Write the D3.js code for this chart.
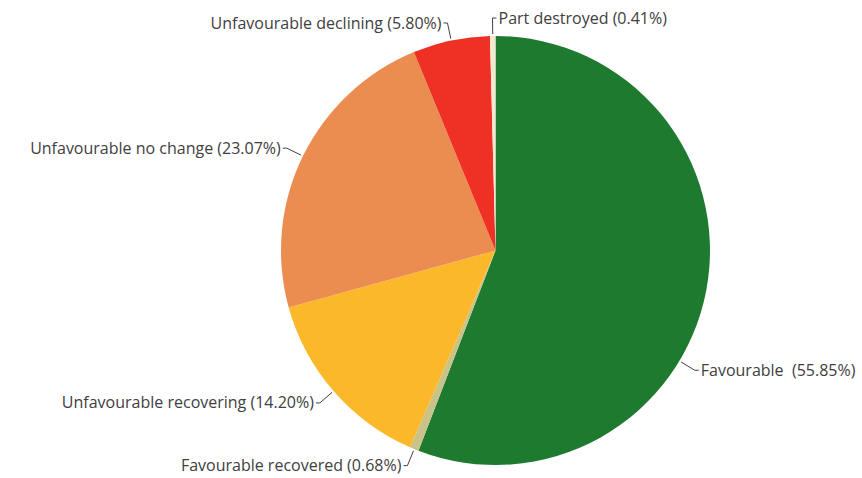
<!DOCTYPE html>
<html>
<head>
<meta charset="utf-8">
<script src="https://cdn.jsdelivr.net/npm/d3@7"></script>
<style>
  html, body { margin: 0; padding: 0; background: #ffffff; }
  svg { display: block; }
  .lbl { font-family: "Open Sans", "Noto Sans", sans-serif; font-size: 16px; fill: #404040; white-space: pre; }
</style>
</head>
<body>
<svg id="chart" width="862" height="478"></svg>
<script>
// Conservation status shares, clockwise from 12 o'clock
const categories = [
  "Favourable",
  "Favourable recovered",
  "Unfavourable recovering",
  "Unfavourable no change",
  "Unfavourable declining",
  "Part destroyed"
];
const shares = [55.85, 0.68, 14.20, 23.07, 5.80, 0.41];
const labelTexts = [
  "Favourable  (55.85%)",
  "Favourable recovered (0.68%)",
  "Unfavourable recovering (14.20%)",
  "Unfavourable no change (23.07%)",
  "Unfavourable declining (5.80%)",
  "Part destroyed (0.41%)"
];
const colors = ["#1e7a2f", "#c9c389", "#fbb82a", "#eb8d50", "#ee3124", "#f2ead0"];

// Leader-line angle overrides (degrees, clockwise from top); null = slice middle
const labelAngleOverride = [121, null, null, null, null, null];
// Which side of the elbow each label sits on
const labelSide = ["right", "left", "left", "left", "left", "right"];

const svg = d3.select("#chart");
const cx = 495.5, cy = 250.5, radius = 214.5;

const rows = categories.map((c, i) => ({
  name: c, value: shares[i], text: labelTexts[i], color: colors[i],
  override: labelAngleOverride[i], side: labelSide[i]
}));

const pie = d3.pie().sort(null).value(d => d.value);
const arcs = pie(rows);
const arc = d3.arc().innerRadius(0).outerRadius(radius);

const g = svg.append("g").attr("transform", `translate(${cx},${cy})`);

g.selectAll("path.slice")
  .data(arcs)
  .join("path")
  .attr("class", "slice")
  .attr("d", arc)
  .attr("fill", d => d.data.color);

// Point at given angle (radians, clockwise from top) and radius
const polar = (a, r) => [Math.sin(a) * r, -Math.cos(a) * r];

const labels = g.selectAll("g.label")
  .data(arcs)
  .join("g")
  .attr("class", "label");

labels.each(function (d) {
  const a = d.data.override != null ? d.data.override * Math.PI / 180 : (d.startAngle + d.endAngle) / 2;
  const right = d.data.side === "right";
  const p0 = polar(a, radius + 2);
  const p1 = polar(a, radius + 18);
  const dir = right ? 1 : -1;
  const p2 = [p1[0] + dir * 4, p1[1]];
  const sel = d3.select(this);
  sel.append("polyline")
    .attr("points", [p0, p1, p2].map(p => p.join(",")).join(" "))
    .attr("fill", "none")
    .attr("stroke", "#404040")
    .attr("stroke-width", 1);
  sel.append("text")
    .attr("class", "lbl")
    .attr("xml:space", "preserve")
    .attr("x", p2[0] + dir * 2)
    .attr("y", p2[1])
    .attr("dy", "0.35em")
    .attr("text-anchor", right ? "start" : "end")
    .text(d.data.text);
});
</script>
</body>
</html>
